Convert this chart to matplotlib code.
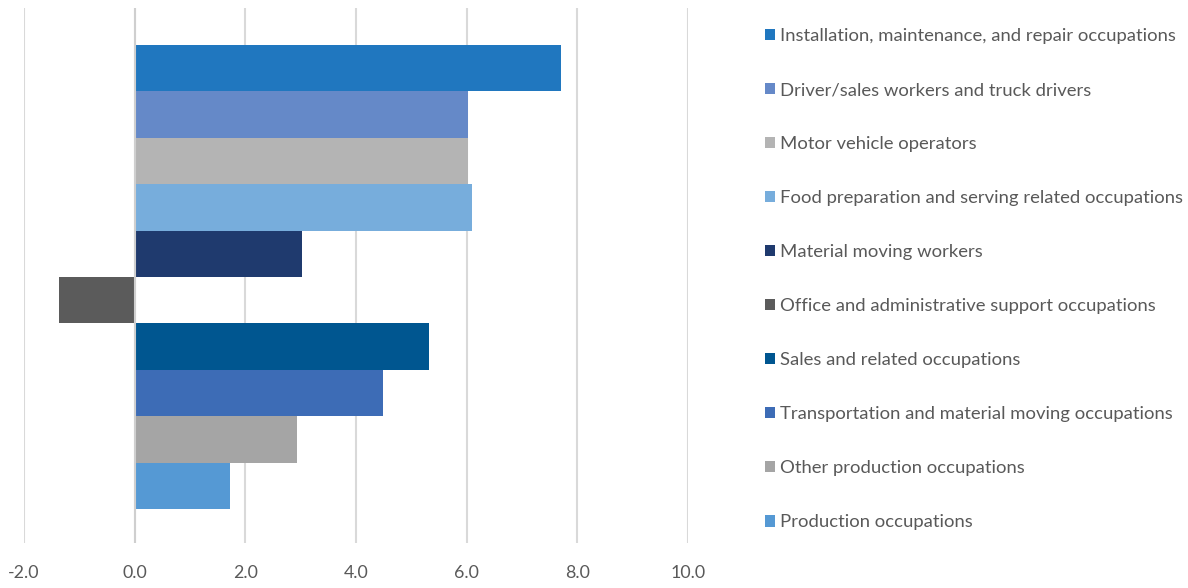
import matplotlib.pyplot as plt
from matplotlib.patches import Patch

# series in legend order (top to bottom)
labels = [
    "Installation, maintenance, and repair occupations",
    "Driver/sales workers and truck drivers",
    "Motor vehicle operators",
    "Food preparation and serving related occupations",
    "Material moving workers",
    "Office and administrative support occupations",
    "Sales and related occupations",
    "Transportation and material moving occupations",
    "Other production occupations",
    "Production occupations",
]
values = [7.70, 6.02, 6.02, 6.09, 3.02, -1.36, 5.32, 4.49, 2.93, 1.72]
colors = ["#2077BF", "#6589C8", "#B4B4B4", "#77ADDC", "#1F3A6E",
          "#5B5B5B", "#005690", "#3D6CB6", "#A5A5A5", "#5599D4"]
xticks = [-2, 0, 2, 4, 6, 8, 10]

plt.rcParams['font.family'] = ['Lato', 'DejaVu Sans']
text_color = "#595959"

fig = plt.figure(figsize=(11.88, 5.88), dpi=100)
W, H = 1188, 588
ax = fig.add_axes([24 / W, (H - 543) / H, (688 - 24) / W, (543 - 8) / H])

ax.barh(range(len(values)), values, height=1.0, color=colors, zorder=2)
ax.set_xlim(-2, 10)
ax.set_ylim(10.233, -1.297)
ax.set_xticks(xticks)
ax.set_xticklabels([f"{t:.1f}" for t in xticks])
ax.set_yticks([])
ax.grid(axis='x', color="#D9D9D9", linewidth=1.5, zorder=0)
ax.axvline(0, color="#CFCFCF", linewidth=1.5, zorder=3)
ax.tick_params(axis='x', length=0, pad=16, labelsize=12.8, labelcolor=text_color)
for s in ax.spines.values():
    s.set_visible(False)

handles = [Patch(facecolor=c, edgecolor='none') for c in colors]
fig.legend(handles, labels, loc='upper left', bbox_to_anchor=(765 / W, 1 - 28 / H),
           frameon=False, fontsize=13.3, labelcolor=text_color,
           handlelength=0.55, handleheight=0.55, handletextpad=0.25,
           labelspacing=2.06, borderaxespad=0, borderpad=0)

fig.savefig("out.png", dpi=100)
